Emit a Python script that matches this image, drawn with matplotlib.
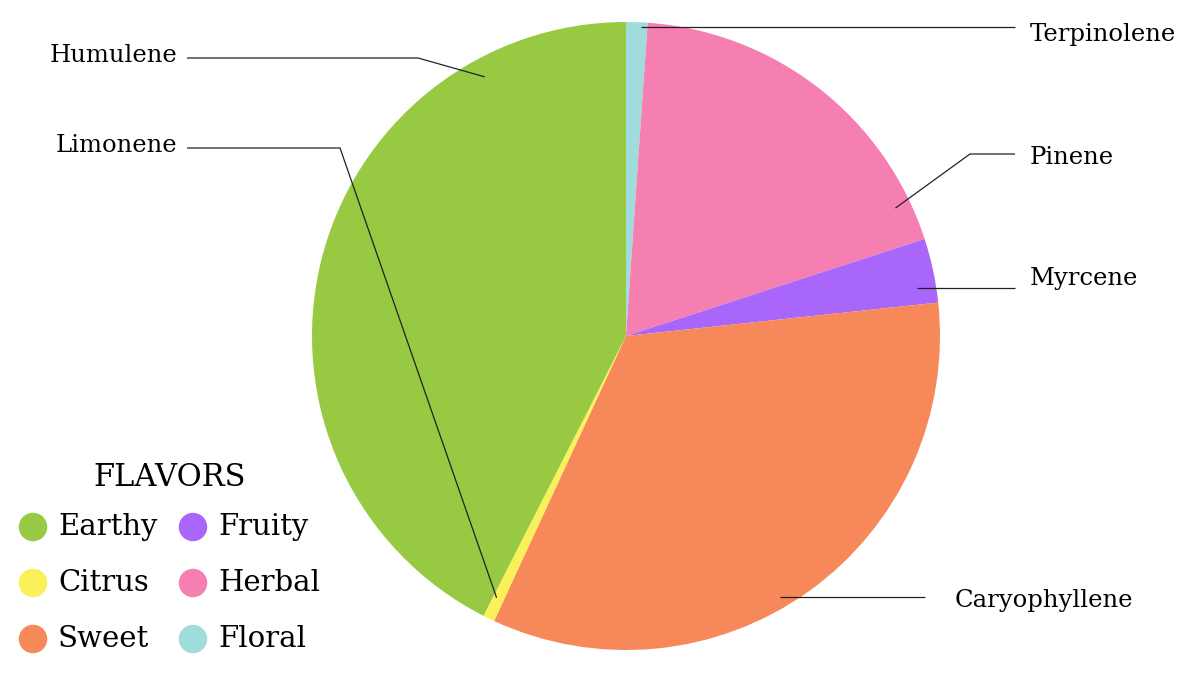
import matplotlib.pyplot as plt
import numpy as np

W, H = 1200, 679

# terpene slices, clockwise from 12 o'clock
terpenes = ["Terpinolene", "Pinene", "Myrcene", "Caryophyllene", "Limonene", "Humulene"]
shares = [1.1, 18.9, 3.3, 33.6, 0.6, 42.5]
terpene_flavor = ["Floral", "Herbal", "Fruity", "Sweet", "Citrus", "Earthy"]

# legend
flavors = ["Earthy", "Fruity", "Citrus", "Herbal", "Sweet", "Floral"]
flavor_colors = {
    "Earthy": "#97c943",
    "Fruity": "#a966fa",
    "Citrus": "#faf05a",
    "Herbal": "#f57fb0",
    "Sweet": "#f6885a",
    "Floral": "#a0dcdc",
}

# label layout (pixel coords, y from top): anchor angle (deg clockwise from top), radius fraction,
# elbow point or None, line end x, text x, text y, alignment
label_layout = {
    "Terpinolene": (2.8, 0.985, None, 1015, 1030, 35, "left"),
    "Pinene": (64.6, 0.95, (970, 154), 1015, 1030, 158, "left"),
    "Myrcene": (80.7, 0.94, None, 1015, 1030, 278, "left"),
    "Caryophyllene": (149.5, 0.965, None, 925, 955, 600, "left"),
    "Limonene": (206.3, 0.93, (340, 148), 187, 177, 146, "right"),
    "Humulene": (331.4, 0.94, (418, 58), 187, 177, 56, "right"),
}

FONT = "DejaVu Serif"

fig = plt.figure(figsize=(W / 100, H / 100), dpi=100)
ax = fig.add_axes([0, 0, 1, 1])

cx, cy, R = 626, H - 336, 314
colors = [flavor_colors[f] for f in terpene_flavor]
ax.pie(shares, colors=colors, startangle=90, counterclock=False,
       center=(cx, cy), radius=R, wedgeprops=dict(linewidth=0))

for name in terpenes:
    ang, rf, elbow, xend, tx, ty, ha = label_layout[name]
    t = np.deg2rad(ang)
    ax_ = cx + rf * R * np.sin(t)
    ay_ = cy + rf * R * np.cos(t)
    xs, ys = [ax_], [ay_]
    if elbow is not None:
        xs.append(elbow[0])
        ys.append(H - elbow[1])
        ys.append(H - elbow[1])
    else:
        ys.append(ay_)
    xs.append(xend)
    ax.plot(xs, ys, color="#222222", lw=0.9, solid_capstyle="butt")
    ax.text(tx, H - ty, name, ha=ha, va="center", fontsize=17.5, family=FONT, color="black")

# legend
ax.text(170, H - 477, "FLAVORS", ha="center", va="center", fontsize=22, family=FONT,
        color="black")
for i, f in enumerate(flavors):
    col, row = i % 2, i // 2
    mx = 33 + col * 160
    my = H - (527 + row * 56)
    ax.scatter([mx], [my], s=420, color=flavor_colors[f], edgecolors="none", zorder=3)
    ax.text(mx + 25, my, f, ha="left", va="center", fontsize=21, family=FONT, color="black")

ax.set_xlim(0, W)
ax.set_ylim(0, H)
ax.set_aspect("auto")
ax.axis("off")

fig.savefig("out.png", dpi=100, facecolor="white")
